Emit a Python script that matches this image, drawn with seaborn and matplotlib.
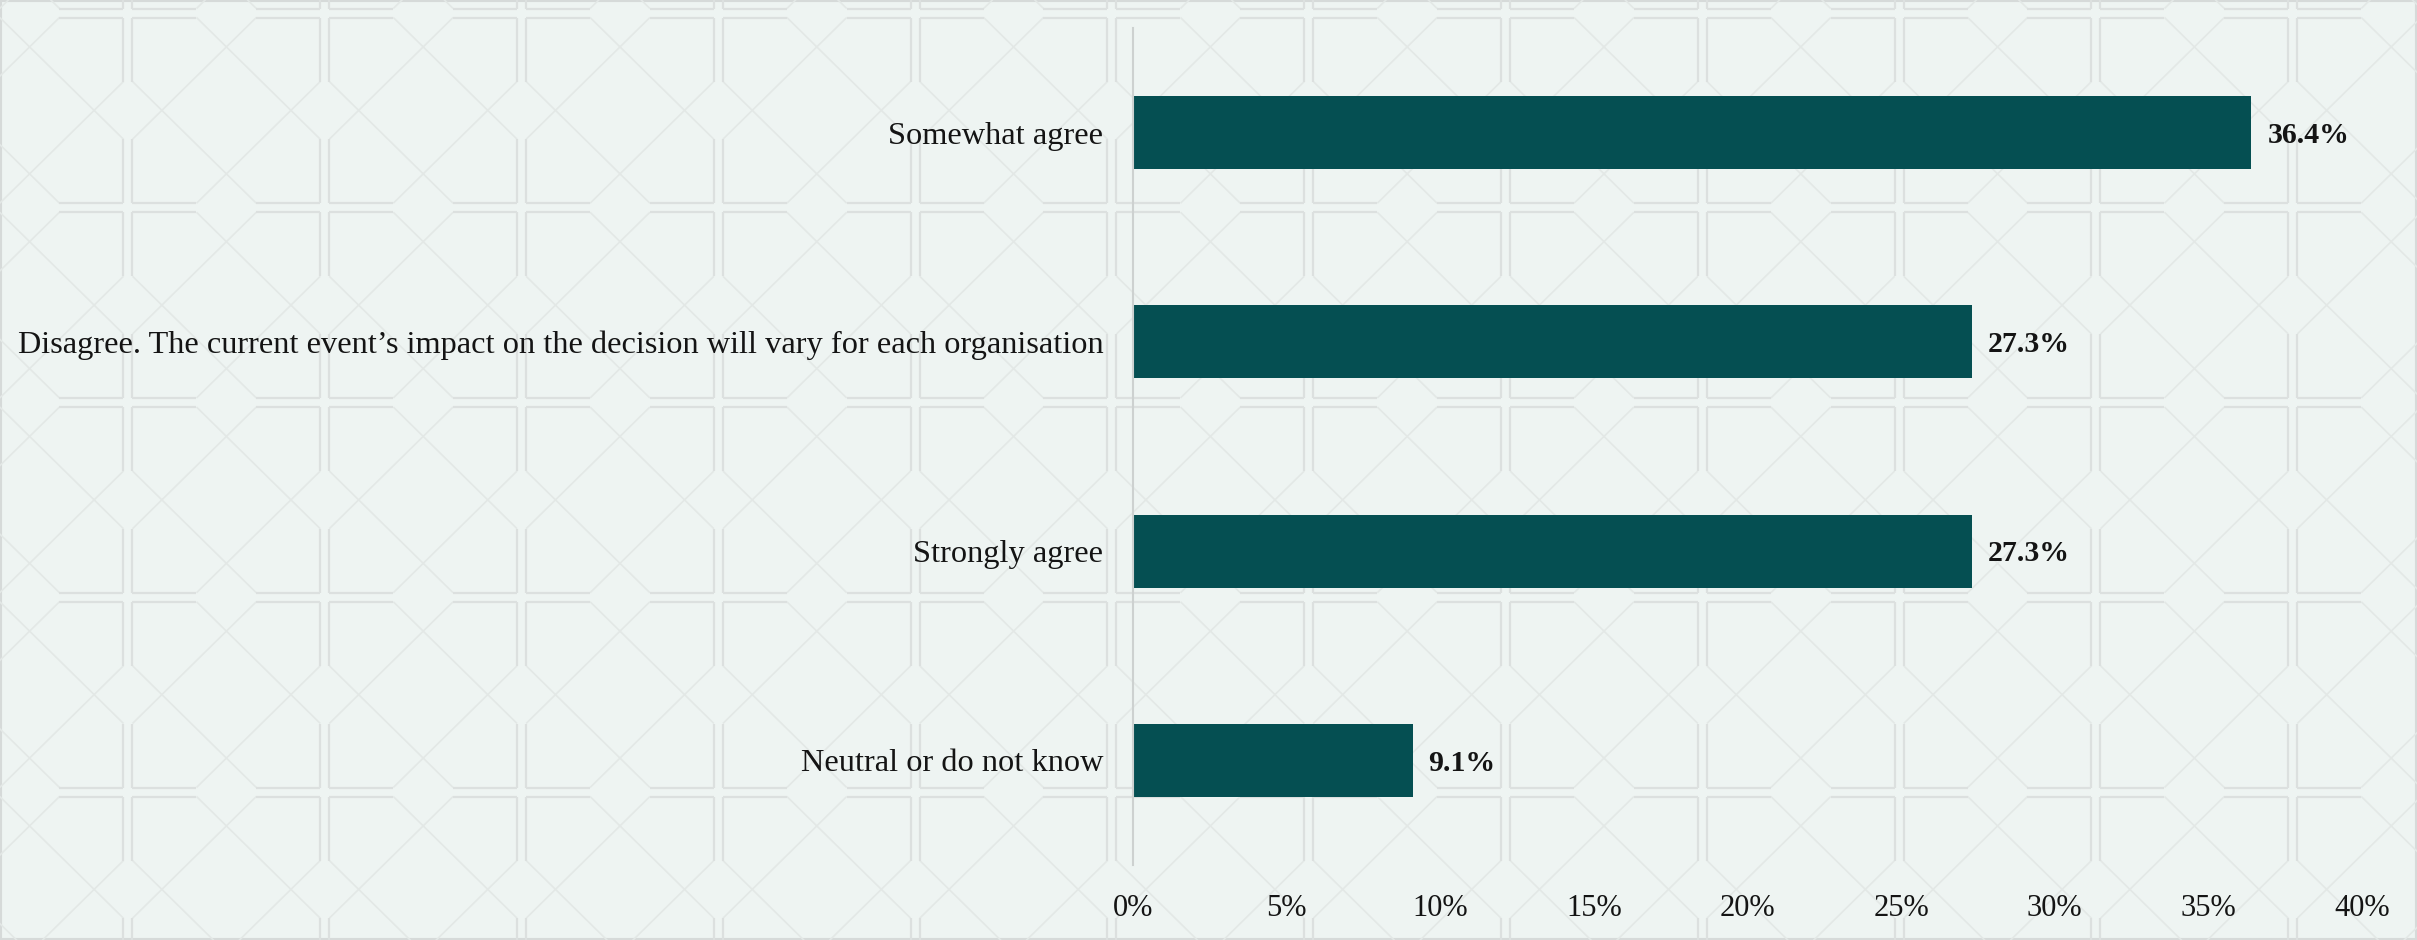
import matplotlib
matplotlib.use("Agg")
import matplotlib.pyplot as plt
from matplotlib.collections import LineCollection
from matplotlib.patches import Rectangle
import seaborn as sns
import pandas as pd

# Survey responses (share of respondents, %)
categories = [
    "Somewhat agree",
    "Disagree. The current event\u2019s impact on the decision will vary for each organisation",
    "Strongly agree",
    "Neutral or do not know",
]
values = [36.4, 27.3, 27.3, 9.1]
x_ticks = [0, 5, 10, 15, 20, 25, 30, 35, 40]
x_tick_labels = [f"{t}%" for t in x_ticks]

BAR_COLOR = "#054f52"
BG_COLOR = "#eef4f2"
TEXT_COLOR = "#141414"

sns.set_theme(style="white")
plt.rcParams["font.family"] = ["Liberation Serif", "DejaVu Serif"]

W_PX, H_PX = 2417, 940
fig = plt.figure(figsize=(W_PX / 100, H_PX / 100), dpi=100)
fig.patch.set_facecolor(BG_COLOR)

# Decorative lattice background, drawn in pixel coordinates
bg = fig.add_axes([0, 0, 1, 1], zorder=0)
bg.set_xlim(0, W_PX)
bg.set_ylim(H_PX, 0)
bg.axis("off")
bg.set_facecolor(BG_COLOR)

px, py = 196.8, 194.75
x0, y0 = 128.0, 13.0
gap = 4.5
seg = 64.0
border_segs, diag_segs = [], []
for i in range(-2, 14):
    for j in range(-2, 7):
        L = x0 + i * px + gap
        R = x0 + (i + 1) * px - gap
        T = y0 + j * py + gap
        B = y0 + (j + 1) * py - gap
        border_segs += [
            [(L, T), (L + seg, T)], [(R - seg, T), (R, T)],
            [(L, B), (L + seg, B)], [(R - seg, B), (R, B)],
            [(L, T), (L, T + seg)], [(L, B - seg), (L, B)],
            [(R, T), (R, T + seg)], [(R, B - seg), (R, B)],
        ]
        diag_segs += [
            [(L + seg, T), (R, B - seg)],
            [(R - seg, T), (L, B - seg)],
            [(L, T + seg), (R - seg, B)],
            [(R, T + seg), (L + seg, B)],
        ]
bg.add_collection(LineCollection(diag_segs, colors="#e3e8e6", linewidths=1.2))
bg.add_collection(LineCollection(border_segs, colors="#dce0df", linewidths=1.6))
bg.add_patch(Rectangle((1, 1), W_PX - 2, H_PX - 2, fill=False,
                       edgecolor="#d6dad9", linewidth=1.5))

# Main bar chart
ax = fig.add_axes([1133 / W_PX, 75 / H_PX, 1229 / W_PX, 837 / H_PX], zorder=1)
ax.set_facecolor("none")

df = pd.DataFrame({"response": categories, "share": values})
sns.barplot(data=df, x="share", y="response", orient="h", color=BAR_COLOR,
            saturation=1, width=0.35, ax=ax, linewidth=0)

ax.set_xlim(0, 40)
ax.set_xticks(x_ticks)
ax.set_xticklabels(x_tick_labels)
ax.set_xlabel("")
ax.set_ylabel("")
ax.tick_params(axis="x", length=0, pad=21, labelsize=22, labelcolor=TEXT_COLOR)
ax.tick_params(axis="y", length=0, pad=21.5, labelsize=23.3, labelcolor=TEXT_COLOR)

for side in ["top", "right", "bottom"]:
    ax.spines[side].set_visible(False)
ax.spines["left"].set_color("#cdd1d0")
ax.spines["left"].set_linewidth(1.5)
ax.grid(False)

for i, v in enumerate(values):
    ax.annotate(f"{v}%", xy=(v, i), xytext=(11.5, -2), textcoords="offset points",
                ha="left", va="center", fontsize=21.5, fontweight="bold",
                color=TEXT_COLOR)

fig.savefig("out.png", dpi=100, facecolor=BG_COLOR)
